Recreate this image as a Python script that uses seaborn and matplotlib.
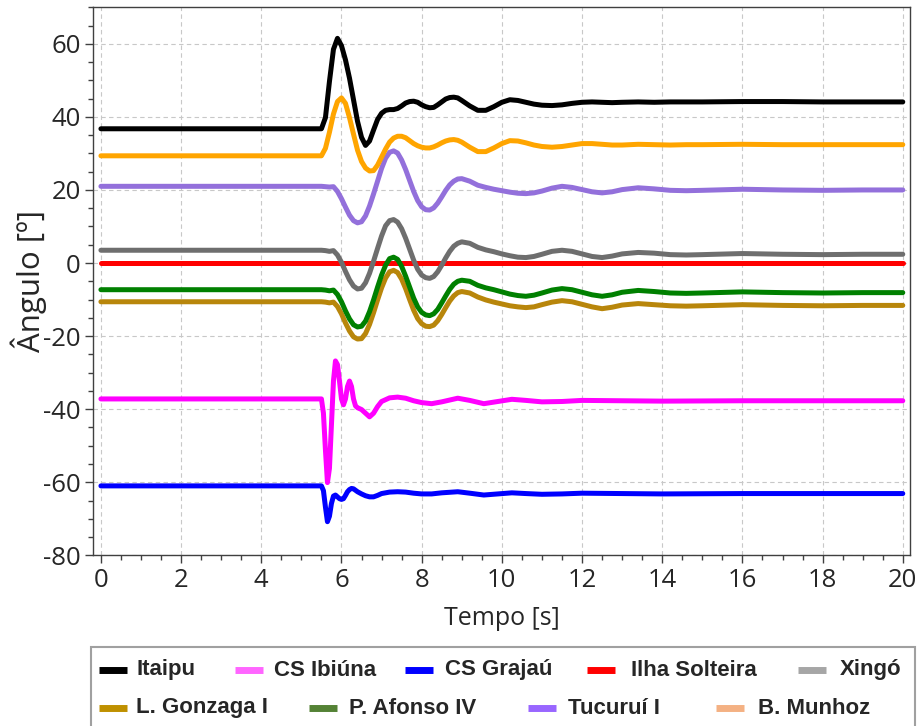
import numpy as np
import pandas as pd
import matplotlib
matplotlib.use("Agg")
import matplotlib.pyplot as plt
from matplotlib.lines import Line2D
from matplotlib.patches import Rectangle
from matplotlib.ticker import MultipleLocator
import seaborn as sns

# ---------------- data ----------------
series_names = ["Itaipu", "CS Ibiúna", "CS Grajaú", "Ilha Solteira", "Xingó",
                "L. Gonzaga I", "P. Afonso IV", "Tucuruí I", "B. Munhoz"]

# time grid for the slow (electromechanical) series
t_slow = [0, 5.5, 5.6, 5.7, 5.8, 5.9, 6.0, 6.1, 6.2, 6.3, 6.4, 6.5, 6.6, 6.7, 6.8,
          6.9, 7.0, 7.1, 7.2, 7.3, 7.4, 7.5, 7.6, 7.7, 7.8, 7.9, 8.0, 8.1, 8.2, 8.3,
          8.4, 8.5, 8.6, 8.7, 8.8, 8.9, 9.0, 9.2, 9.4, 9.6, 9.8, 10.0, 10.2, 10.4,
          10.6, 10.8, 11.0, 11.25, 11.5, 11.75, 12.0, 12.25, 12.5, 12.75, 13.0,
          13.4, 13.8, 14.2, 14.6, 15, 16, 17, 18, 19, 20]

itaipu = [36.75, 36.75, 39.8, 49.7, 58.5, 61.5, 59.5, 55.6, 50.6, 44.7, 38.8, 34.4,
          32.2, 33.4, 36.4, 39.3, 41.0, 41.8, 42.0, 42.0, 42.3, 43.0, 43.8, 44.2,
          44.3, 44.0, 43.3, 42.8, 42.5, 42.6, 43.3, 44.1, 44.9, 45.3, 45.4, 45.2,
          44.5, 43.0, 41.8, 41.8, 42.8, 44.0, 44.7, 44.5, 44.0, 43.5, 43.2, 43.1,
          43.3, 43.7, 44.0, 44.1, 44.0, 43.9, 44.0, 44.1, 44.0, 44.1, 44.1, 44.1,
          44.2, 44.2, 44.1, 44.1, 44.1]

b_munhoz = [29.35, 29.35, 31.4, 35.8, 40.8, 44.2, 45.2, 43.7, 39.8, 35.3, 30.9, 27.8,
            26.0, 25.2, 25.3, 26.8, 29.0, 31.2, 33.1, 34.2, 34.7, 34.7, 34.3, 33.5,
            32.7, 32.1, 31.7, 31.5, 31.5, 31.8, 32.3, 32.9, 33.4, 33.7, 33.8, 33.6,
            33.1, 31.7, 30.5, 30.5, 31.5, 32.7, 33.5, 33.4, 32.9, 32.3, 31.9, 31.7,
            31.9, 32.3, 32.7, 32.7, 32.5, 32.3, 32.3, 32.5, 32.4, 32.3, 32.4, 32.4,
            32.5, 32.4, 32.4, 32.4, 32.4]

tucurui = [21.0, 21.0, 20.9, 20.8, 20.9, 19.6, 17.6, 15.3, 13.1, 11.6, 11.0, 11.3,
           12.9, 15.6, 18.9, 22.4, 25.9, 28.7, 30.3, 30.7, 30.1, 28.2, 25.6, 22.6,
           19.6, 17.1, 15.4, 14.6, 14.5, 15.1, 16.4, 18.1, 19.9, 21.4, 22.4, 23.0,
           23.1, 22.4, 21.3, 20.7, 20.2, 19.8, 19.4, 19.1, 19.0, 19.2, 19.7, 20.5,
           21.0, 20.7, 20.1, 19.5, 19.2, 19.5, 20.1, 20.6, 20.3, 19.9, 19.8, 19.9,
           20.2, 20.0, 19.9, 20.0, 20.0]

xingo = [3.5, 3.5, 3.4, 3.2, 3.4, 2.2, 0.2, -2.3, -4.6, -6.3, -7.1, -6.9, -5.4,
         -2.8, 0.5, 4.0, 7.4, 10.2, 11.6, 11.9, 11.2, 9.4, 6.8, 3.8, 0.8, -1.7,
         -3.3, -4.0, -4.2, -3.7, -2.4, -0.6, 1.4, 3.2, 4.6, 5.4, 5.8, 5.4, 4.3,
         3.6, 3.1, 2.5, 2.0, 1.6, 1.5, 1.8, 2.4, 3.2, 3.5, 3.2, 2.5, 1.8, 1.5,
         1.9, 2.5, 2.9, 2.7, 2.3, 2.2, 2.3, 2.6, 2.4, 2.3, 2.4, 2.4]

p_afonso = [-7.3, -7.3, -7.4, -7.6, -7.4, -8.6, -10.6, -13.1, -15.3, -16.9, -17.5,
            -17.3, -15.9, -13.3, -10.1, -6.6, -3.3, -0.6, 1.2, 1.6, 1.0, -0.9, -3.6,
            -6.6, -9.6, -12.0, -13.5, -14.2, -14.4, -13.9, -12.7, -10.9, -9.0, -7.2,
            -5.8, -5.0, -4.7, -5.0, -6.1, -6.8, -7.3, -7.9, -8.5, -8.9, -9.1, -8.8,
            -8.2, -7.4, -7.0, -7.3, -8.0, -8.7, -9.1, -8.7, -8.0, -7.5, -7.8, -8.2,
            -8.3, -8.2, -7.9, -8.1, -8.2, -8.1, -8.1]

l_gonzaga = [-10.6, -10.6, -10.7, -10.9, -10.7, -11.9, -13.9, -16.4, -18.6, -20.2,
             -20.8, -20.7, -19.3, -16.8, -13.6, -10.1, -6.8, -4.1, -2.4, -2.0, -2.6,
             -4.4, -7.0, -10.0, -12.9, -15.2, -16.6, -17.3, -17.4, -17.0, -15.8,
             -14.1, -12.2, -10.4, -9.0, -8.1, -7.8, -8.2, -9.3, -10.1, -10.7, -11.2,
             -11.7, -12.0, -12.2, -12.0, -11.4, -10.7, -10.3, -10.6, -11.3, -12.0,
             -12.5, -12.1, -11.5, -11.1, -11.4, -11.7, -11.8, -11.7, -11.4, -11.6,
             -11.7, -11.6, -11.6]

# time grid for the fast (HVDC converter) series
t_fast = [0, 5.5, 5.55, 5.6, 5.65, 5.7, 5.75, 5.8, 5.85, 5.9, 5.95, 6.0, 6.05, 6.1,
          6.15, 6.2, 6.25, 6.3, 6.35, 6.4, 6.5, 6.6, 6.7, 6.8, 6.9, 7.0, 7.2, 7.4,
          7.6, 7.8, 8.0, 8.25, 8.5, 8.9, 9.2, 9.55, 9.9, 10.25, 10.6, 11, 11.5, 12,
          13, 14, 16, 18, 20]

cs_ibiuna = [-37.2, -37.2, -41.1, -51.2, -60.1, -56.2, -44.2, -32.3, -26.8, -27.8,
             -32.3, -37.2, -38.8, -37.2, -33.8, -32.3, -33.8, -37.2, -39.1, -39.6,
             -40.1, -41.1, -42.1, -41.1, -39.3, -37.9, -36.9, -36.7, -37.0, -37.7,
             -38.2, -38.5, -38.0, -37.0, -37.6, -38.5, -37.9, -37.3, -37.6, -38.0,
             -37.9, -37.6, -37.7, -37.8, -37.7, -37.7, -37.7]

cs_grajau = [-61.0, -61.0, -62.3, -66.8, -70.8, -69.3, -65.8, -63.8, -63.5, -64.0,
             -64.5, -64.7, -64.5, -63.6, -62.6, -62.0, -61.7, -61.8, -62.2, -62.6,
             -63.2, -63.7, -64.0, -64.0, -63.6, -63.1, -62.7, -62.6, -62.7, -63.0,
             -63.2, -63.2, -62.9, -62.6, -63.0, -63.5, -63.2, -62.9, -63.1, -63.3,
             -63.2, -63.0, -63.1, -63.2, -63.1, -63.1, -63.1]

t_ref = [0, 20]
ilha_solteira = [0.0, 0.0]

x_ticks = [0, 2, 4, 6, 8, 10, 12, 14, 16, 18, 20]
y_ticks = [-80, -60, -40, -20, 0, 20, 40, 60]

line_colors = ["#000000", "#FF00FF", "#0000FF", "#FF0000", "#6E6E6E",
               "#B8860B", "#008000", "#9370DB", "#FFA500"]
legend_colors = ["#000000", "#FF66FF", "#0000FF", "#FF0000", "#A6A6A6",
                 "#BF9000", "#548235", "#9966FF", "#F4B183"]

# ---------------- table ----------------
pairs = [(t_slow, itaipu), (t_fast, cs_ibiuna), (t_fast, cs_grajau),
         (t_ref, ilha_solteira), (t_slow, xingo), (t_slow, l_gonzaga),
         (t_slow, p_afonso), (t_slow, tucurui), (t_slow, b_munhoz)]
frames = []
for name, (tt, vv) in zip(series_names, pairs):
    frames.append(pd.DataFrame({"Tempo": tt, "Angulo": vv, "Serie": name}))
df = pd.concat(frames, ignore_index=True)

# ---------------- plot ----------------
sns.set_style("white")
plt.rcParams["font.family"] = ["Open Sans", "DejaVu Sans"]
plt.rcParams["axes.unicode_minus"] = False

W, H = 918, 726
fig = plt.figure(figsize=(W / 100, H / 100), dpi=100)
ax_l, ax_r, ax_t, ax_b = 93.3, 910.0, 7.3, 555.3
ax = fig.add_axes([ax_l / W, 1 - ax_b / H, (ax_r - ax_l) / W, (ax_b - ax_t) / H])

palette = dict(zip(series_names, line_colors))
sns.lineplot(data=df, x="Tempo", y="Angulo", hue="Serie", hue_order=series_names,
             palette=palette, linewidth=3.6, estimator=None, sort=False,
             legend=False, ax=ax)

ax.set_xlim(-0.19, 20.18)
ax.set_ylim(-80, 70)
ax.set_xticks(x_ticks)
ax.set_yticks(y_ticks)
ax.xaxis.set_minor_locator(MultipleLocator(0.5))
ax.yaxis.set_minor_locator(MultipleLocator(5))
ax.grid(True, which="major", linestyle=(0, (4, 3)), color="#C8C8C8", linewidth=0.8)
ax.set_axisbelow(True)

for s in ax.spines.values():
    s.set_color("#404040")
    s.set_linewidth(1.0)
ax.tick_params(which="major", direction="out", length=6, width=1, color="#404040",
               labelsize=18.5, pad=3)
ax.tick_params(which="minor", direction="out", length=3.5, width=1, color="#404040")
ax.tick_params(axis="x", which="both", bottom=True)
ax.tick_params(axis="y", which="both", left=True)

ax.set_xlabel("Tempo [s]", fontsize=18)
ax.set_ylabel("Ângulo [º]", fontsize=22.5)
ax.xaxis.set_label_coords(0.5, -0.093)
ax.yaxis.set_label_coords(-0.057, 0.5)

# ---------------- legend box ----------------
def fx(px):
    return px / W

def fy(py):
    return 1 - py / H

fig.add_artist(Rectangle((fx(91), fy(732)), fx(915) - fx(91), fy(647) - fy(732),
                         transform=fig.transFigure, facecolor="white",
                         edgecolor="#A0A0A0", linewidth=1.5))

rows = [
    (670, [(0, 99, 136), (1, 235, 274), (2, 405, 445), (3, 587, 631), (4, 798, 840)]),
    (708, [(5, 99, 136), (6, 309, 349), (7, 528, 568), (8, 716, 758)]),
]
for ypx, entries in rows:
    for idx, hx, tx in entries:
        fig.add_artist(Line2D([fx(hx), fx(hx + 28)], [fy(ypx), fy(ypx)],
                              transform=fig.transFigure, color=legend_colors[idx],
                              linewidth=5, solid_capstyle="butt"))
        fig.text(fx(tx), fy(ypx), series_names[idx], ha="left", va="center",
                 fontsize=16, fontweight="bold",
                 family=["Liberation Sans", "DejaVu Sans"])

fig.savefig("out.png", dpi=100)
